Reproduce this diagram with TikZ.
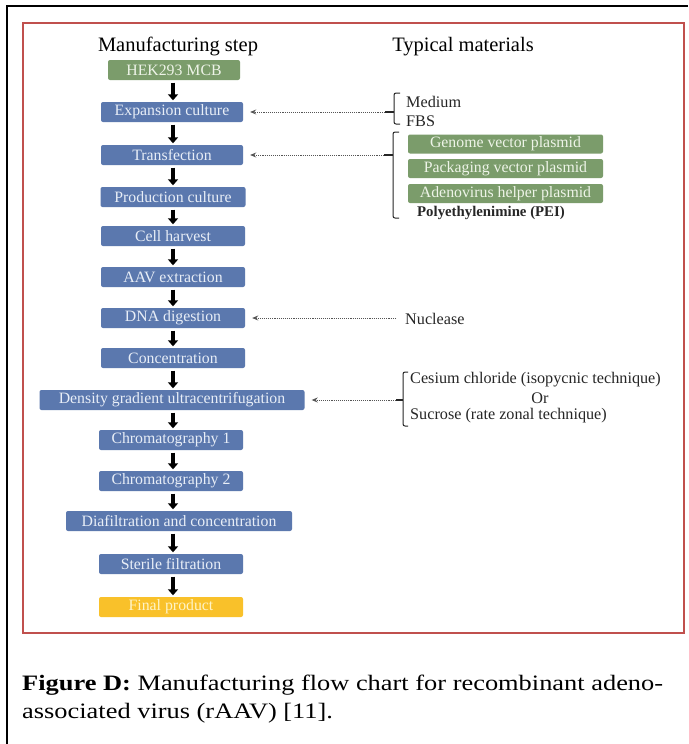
\documentclass[tikz,border=0pt]{standalone}
\usepackage{fontspec}
\setmainfont{Liberation Serif}
\usetikzlibrary{arrows.meta}
\definecolor{stepblue}{HTML}{5B78AE}
\definecolor{matgreen}{HTML}{7B9C6B}
\definecolor{finalyellow}{HTML}{F9C12A}
\definecolor{frame red}{HTML}{C0504D}
\definecolor{boxtext}{HTML}{E8EEF7}
\definecolor{greentext}{HTML}{EEF4E8}
\definecolor{yellowtext}{HTML}{FFF4C8}
\definecolor{dotgray}{HTML}{555555}
\begin{document}
\begin{tikzpicture}[x=1pt,y=-1pt,
  stepbox/.style={fill=stepblue, rounded corners=2pt, text=boxtext, inner sep=0pt,
    minimum height=20pt, font=\fontsize{15.8}{17}\selectfont},
  greenbox/.style={stepbox, fill=matgreen, text=greentext},
  finalbox/.style={stepbox, fill=finalyellow, text=yellowtext},
  mattext/.style={inner sep=0pt, anchor=west, font=\fontsize{16.2}{18}\selectfont, text=black!85},
  title/.style={inner sep=0pt, font=\fontsize{20.5}{22}\selectfont},
  caption/.style={inner sep=0pt, anchor=base west, font=\fontsize{22}{25}\selectfont},
  downarrow/.style={line width=3.6pt, -{Triangle[width=10pt,length=6pt]}, shorten <=2.5pt, shorten >=1.5pt},
  feed/.style={dotgray, line width=0.9pt, densely dotted, -{Stealth[length=6pt,width=5pt]}, shorten >=7pt},
  bracketline/.style={black!85, line width=1pt, rounded corners=2pt},
  tick/.style={black!85, line width=1.6pt}
]
\useasboundingbox (0,0) rectangle (688,744);
\fill[white] (0,0) rectangle (688,744);
% frames
\draw[line width=1.5pt] (688,6) -- (7,6) -- (7,744);
\draw[frame red, line width=1.2pt] (23,23) rectangle (684,633);

% titles
\node[title] (t1) at (178,46) {Manufacturing step};
\node[title] (t2) at (463,47) {Typical materials};

% steps
\coordinate (axis) at (173,0);
\node[greenbox, minimum width=132pt] (hek) at (174,70) {HEK293 MCB};
\node[stepbox, minimum width=142pt] (exp) at (172,112) {Expansion culture};
\node[stepbox, minimum width=142pt] (trans) at (172,155) {Transfection};
\node[stepbox, minimum width=145pt] (prod) at (173,197) {Production culture};
\node[stepbox, minimum width=144pt] (harv) at (173,236) {Cell harvest};
\node[stepbox, minimum width=144pt] (aav) at (173,277) {AAV extraction};
\node[stepbox, minimum width=144pt] (dna) at (173,318) {DNA digestion};
\node[stepbox, minimum width=144pt] (conc) at (173,358) {Concentration};
\node[stepbox, minimum width=265pt] (dgu) at (172,400) {Density gradient ultracentrifugation};
\node[stepbox, minimum width=144pt] (chr1) at (171,440) {Chromatography 1};
\node[stepbox, minimum width=144pt] (chr2) at (171,481) {Chromatography 2};
\node[stepbox, minimum width=226pt] (dia) at (179,521) {Diafiltration and concentration};
\node[stepbox, minimum width=144pt] (ster) at (171,564) {Sterile filtration};
\node[finalbox, minimum width=144pt] (fin) at (171,607) {Final product};

\foreach \a/\b in {hek/exp, exp/trans, trans/prod, prod/harv, harv/aav, aav/dna,
  dna/conc, conc/dgu, dgu/chr1, chr1/chr2, chr2/dia, dia/ster, ster/fin}
  \draw[downarrow] (\a.south -| axis) -- (\b.north -| axis);

% materials: medium / FBS
\node[mattext] (med) at (406,102) {Medium};
\node[mattext] (fbs) at (406,121) {FBS};
\draw[bracketline] (400,93) -- (394,93) -- (394,124) -- (400,124);
\coordinate (b1) at (394,112);
\coordinate (b1s) at (385,112);
\draw[tick] (b1s) -- (b1);
\draw[feed] (b1s) -- (exp.east);

% materials: plasmids
\node[greenbox, minimum width=195pt, minimum height=19pt] (gvp) at (505.5,144) {Genome vector plasmid};
\node[greenbox, minimum width=195pt, minimum height=19pt] (pvp) at (505.5,168.5) {Packaging vector plasmid};
\node[greenbox, minimum width=195pt, minimum height=19pt] (ahp) at (505.5,193.5) {Adenovirus helper plasmid};
\node[mattext, font=\bfseries\fontsize{14.8}{16}\selectfont] (pei) at (417,213) {Polyethylenimine (PEI)};
\draw[bracketline] (399,132) -- (393,132) -- (393,218) -- (399,218);
\coordinate (b2) at (393,155);
\coordinate (b2s) at (384,155);
\draw[tick] (b2s) -- (b2);
\draw[feed] (b2s) -- (trans.east);

% nuclease
\node[mattext] (nuc) at (405,319) {Nuclease};
\coordinate (b3s) at (396,318);
\draw[feed] (b3s) -- (dna.east);

% density gradient materials
\node[mattext] (ces) at (410,380) {Cesium chloride (isopycnic technique)};
\node[inner sep=0pt, font=\fontsize{16.2}{18}\selectfont, text=black!85] (or) at (540,398) {Or};
\node[mattext] (suc) at (410,416) {Sucrose (rate zonal technique)};
\draw[bracketline] (408,372) -- (403,372) -- (403,426) -- (408,426);
\coordinate (b4) at (403,400);
\coordinate (b4s) at (396,400);
\draw[tick] (b4s) -- (b4);
\draw[feed] (b4s) -- (dgu.east);

% caption
\node[caption] (cap1) at (22,690)
  {\scalebox{1.2}[1]{\textbf{Figure D:} Manufacturing flow chart for recombinant adeno-}};
\node[caption] (cap2) at (22,718)
  {\scalebox{1.2}[1]{associated virus (rAAV) [11].}};
\end{tikzpicture}
\end{document}
